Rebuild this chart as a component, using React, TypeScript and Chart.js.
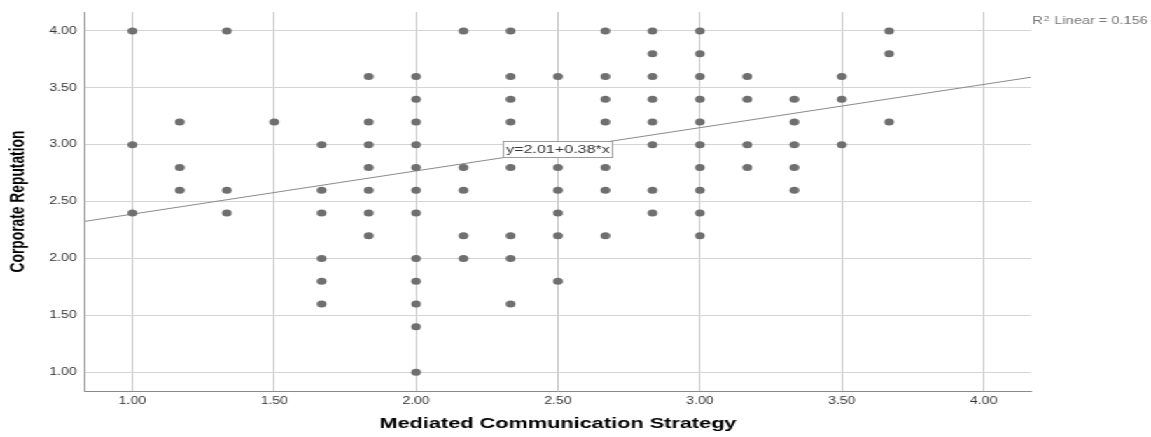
import { useEffect, useRef } from "react";
import { Chart, registerables } from "chart.js";

Chart.register(...registerables);

// Mean scores on the strategy scale (x) and the reputation values observed at each
const strategyLevels = [
  1.0, 1.167, 1.333, 1.5, 1.667, 1.833, 2.0, 2.167, 2.333, 2.5, 2.667, 2.833,
  3.0, 3.167, 3.333, 3.5, 3.667,
];
const reputationAtLevel = [
  [4.0, 3.0, 2.4],
  [3.2, 2.8, 2.6],
  [4.0, 2.6, 2.4],
  [3.2],
  [3.0, 2.6, 2.4, 2.0, 1.8, 1.6],
  [3.6, 3.2, 3.0, 2.8, 2.6, 2.4, 2.2],
  [3.6, 3.4, 3.2, 3.0, 2.8, 2.6, 2.4, 2.0, 1.8, 1.6, 1.4, 1.0],
  [4.0, 2.8, 2.6, 2.2, 2.0],
  [4.0, 3.6, 3.4, 3.2, 2.8, 2.2, 2.0, 1.6],
  [3.6, 2.8, 2.6, 2.4, 2.2, 1.8],
  [4.0, 3.6, 3.4, 3.2, 2.8, 2.6, 2.2],
  [4.0, 3.8, 3.6, 3.4, 3.2, 3.0, 2.6, 2.4],
  [4.0, 3.8, 3.6, 3.4, 3.2, 3.0, 2.8, 2.6, 2.4, 2.2],
  [3.6, 3.4, 3.0, 2.8],
  [3.4, 3.2, 3.0, 2.8, 2.6],
  [3.6, 3.4, 3.0],
  [4.0, 3.8, 3.2],
];

const xTickValues = [1.0, 1.5, 2.0, 2.5, 3.0, 3.5, 4.0];
const yTickValues = [1.0, 1.5, 2.0, 2.5, 3.0, 3.5, 4.0];
const xLimits = [0.833, 4.167];
const yLimits = [0.835, 4.167];

// Linear fit reported by the analysis
const fitIntercept = 2.01;
const fitSlope = 0.38;
const fitRSquared = 0.156;
const fitLabelAt = 2.5;

const xTitle = "Mediated Communication Strategy";
const yTitle = "Corporate Reputation";

// The figure is drawn on a narrower canvas and widened horizontally
const PAGE_W = 1151;
const PAGE_H = 437;
const CANVAS_W = 822;
const STRETCH = PAGE_W / CANVAS_W;

const FONT = "'Liberation Sans', Arial, sans-serif";

const fitAnnotations = {
  id: "fitAnnotations",
  afterDatasetsDraw(chart: any) {
    const { ctx, scales } = chart;
    const xs = scales.x;
    const ys = scales.y;
    // equation box sitting on the fit line
    const label = `y=${fitIntercept.toFixed(2)}+${fitSlope.toFixed(2)}*x`;
    const px = xs.getPixelForValue(fitLabelAt);
    const py = ys.getPixelForValue(fitIntercept + fitSlope * fitLabelAt);
    ctx.save();
    ctx.font = `11.5px ${FONT}`;
    const tw = ctx.measureText(label).width;
    const bw = tw + 4;
    const bh = 16;
    ctx.fillStyle = "#ffffff";
    ctx.fillRect(px - bw / 2, py - bh / 2, bw, bh);
    ctx.strokeStyle = "#9a9a9a";
    ctx.lineWidth = 1;
    ctx.strokeRect(Math.round(px - bw / 2) + 0.5, Math.round(py - bh / 2) + 0.5, Math.round(bw), bh);
    ctx.fillStyle = "#333333";
    ctx.textAlign = "center";
    ctx.textBaseline = "middle";
    ctx.fillText(label, px, py + 1);
    ctx.restore();
  },
  afterDraw(chart: any) {
    const { ctx, chartArea } = chart;
    ctx.save();
    ctx.fillStyle = "#777777";
    ctx.textBaseline = "alphabetic";
    ctx.textAlign = "left";
    let x = chartArea.right + 1;
    const base = 24;
    ctx.font = `10.4px ${FONT}`;
    ctx.fillText("R", x, base);
    x += ctx.measureText("R").width + 0.5;
    ctx.font = `7.8px ${FONT}`;
    ctx.fillText("2", x, base - 3.5);
    x += ctx.measureText("2").width + 0.5;
    ctx.font = `10.4px ${FONT}`;
    ctx.fillText(` Linear = ${fitRSquared.toFixed(3)}`, x, base);
    ctx.restore();
  },
};

export default function App() {
  const canvasRef = useRef<HTMLCanvasElement | null>(null);

  useEffect(() => {
    const canvas = canvasRef.current;
    if (!canvas) return;

    const points: { x: number; y: number }[] = [];
    strategyLevels.forEach((lvl, i) => {
      reputationAtLevel[i].forEach((v) => points.push({ x: lvl, y: v }));
    });
    const fitLine = xLimits.map((x) => ({ x, y: fitIntercept + fitSlope * x }));

    const plotLeft = 85 / STRETCH;
    const plotRight = 1031 / STRETCH;

    const chart = new Chart(canvas, {
      type: "scatter",
      data: {
        datasets: [
          {
            label: "observed",
            data: points,
            order: 0,
            pointStyle: "circle",
            pointRadius: 3.5,
            pointHoverRadius: 3.5,
            pointBackgroundColor: "#6f6f6f",
            pointBorderColor: "#6f6f6f",
            pointBorderWidth: 0,
            showLine: false,
          },
          {
            label: "fit",
            type: "line",
            data: fitLine,
            order: 1,
            borderColor: "#8a8a8a",
            borderWidth: 1,
            pointRadius: 0,
            fill: false,
          },
        ],
      },
      options: {
        animation: false,
        responsive: false,
        devicePixelRatio: 1,
        layout: { padding: { left: 0, top: 12, right: CANVAS_W - plotRight, bottom: 0 } },
        plugins: { legend: { display: false }, tooltip: { enabled: false } },
        scales: {
          x: {
            type: "linear",
            min: xLimits[0],
            max: xLimits[1],
            afterFit(scale: any) {
              scale.height = PAGE_H - 391;
            },
            afterBuildTicks(scale: any) {
              scale.ticks = xTickValues.map((v) => ({ value: v }));
            },
            grid: { color: "#c4c4c4", lineWidth: 1, drawTicks: false },
            border: { display: true, color: "#8a8a8a", width: 1 },
            ticks: {
              padding: 4,
              color: "#333333",
              font: { family: FONT, size: 10 },
              maxRotation: 0,
              autoSkip: false,
              callback: (v: any) => Number(v).toFixed(2),
            },
            title: {
              display: true,
              text: xTitle,
              color: "#000000",
              font: { family: FONT, size: 15.5, weight: "bold" },
              padding: { top: 0, bottom: 3.5 },
            },
          },
          y: {
            type: "linear",
            min: yLimits[0],
            max: yLimits[1],
            afterFit(scale: any) {
              scale.width = plotLeft;
            },
            afterBuildTicks(scale: any) {
              scale.ticks = yTickValues.map((v) => ({ value: v }));
            },
            grid: { color: "#d4d4d4", lineWidth: 1, drawTicks: false },
            border: { display: true, color: "#8a8a8a", width: 1 },
            ticks: {
              padding: 6,
              color: "#333333",
              font: { family: FONT, size: 10 },
              autoSkip: false,
              callback: (v: any) => Number(v).toFixed(2),
            },
            title: {
              display: true,
              text: yTitle,
              color: "#000000",
              font: { family: FONT, size: 13.8, weight: "bold" },
              padding: { top: 4.6, bottom: 0 },
            },
          },
        },
      },
      plugins: [fitAnnotations],
    });

    return () => chart.destroy();
  }, []);

  return (
    <div
      style={{
        position: "fixed",
        left: 0,
        top: 0,
        width: CANVAS_W,
        height: PAGE_H,
        background: "#ffffff",
        transform: `scaleX(${STRETCH})`,
        transformOrigin: "0 0",
      }}
    >
      <canvas ref={canvasRef} width={CANVAS_W} height={PAGE_H} />
    </div>
  );
}
